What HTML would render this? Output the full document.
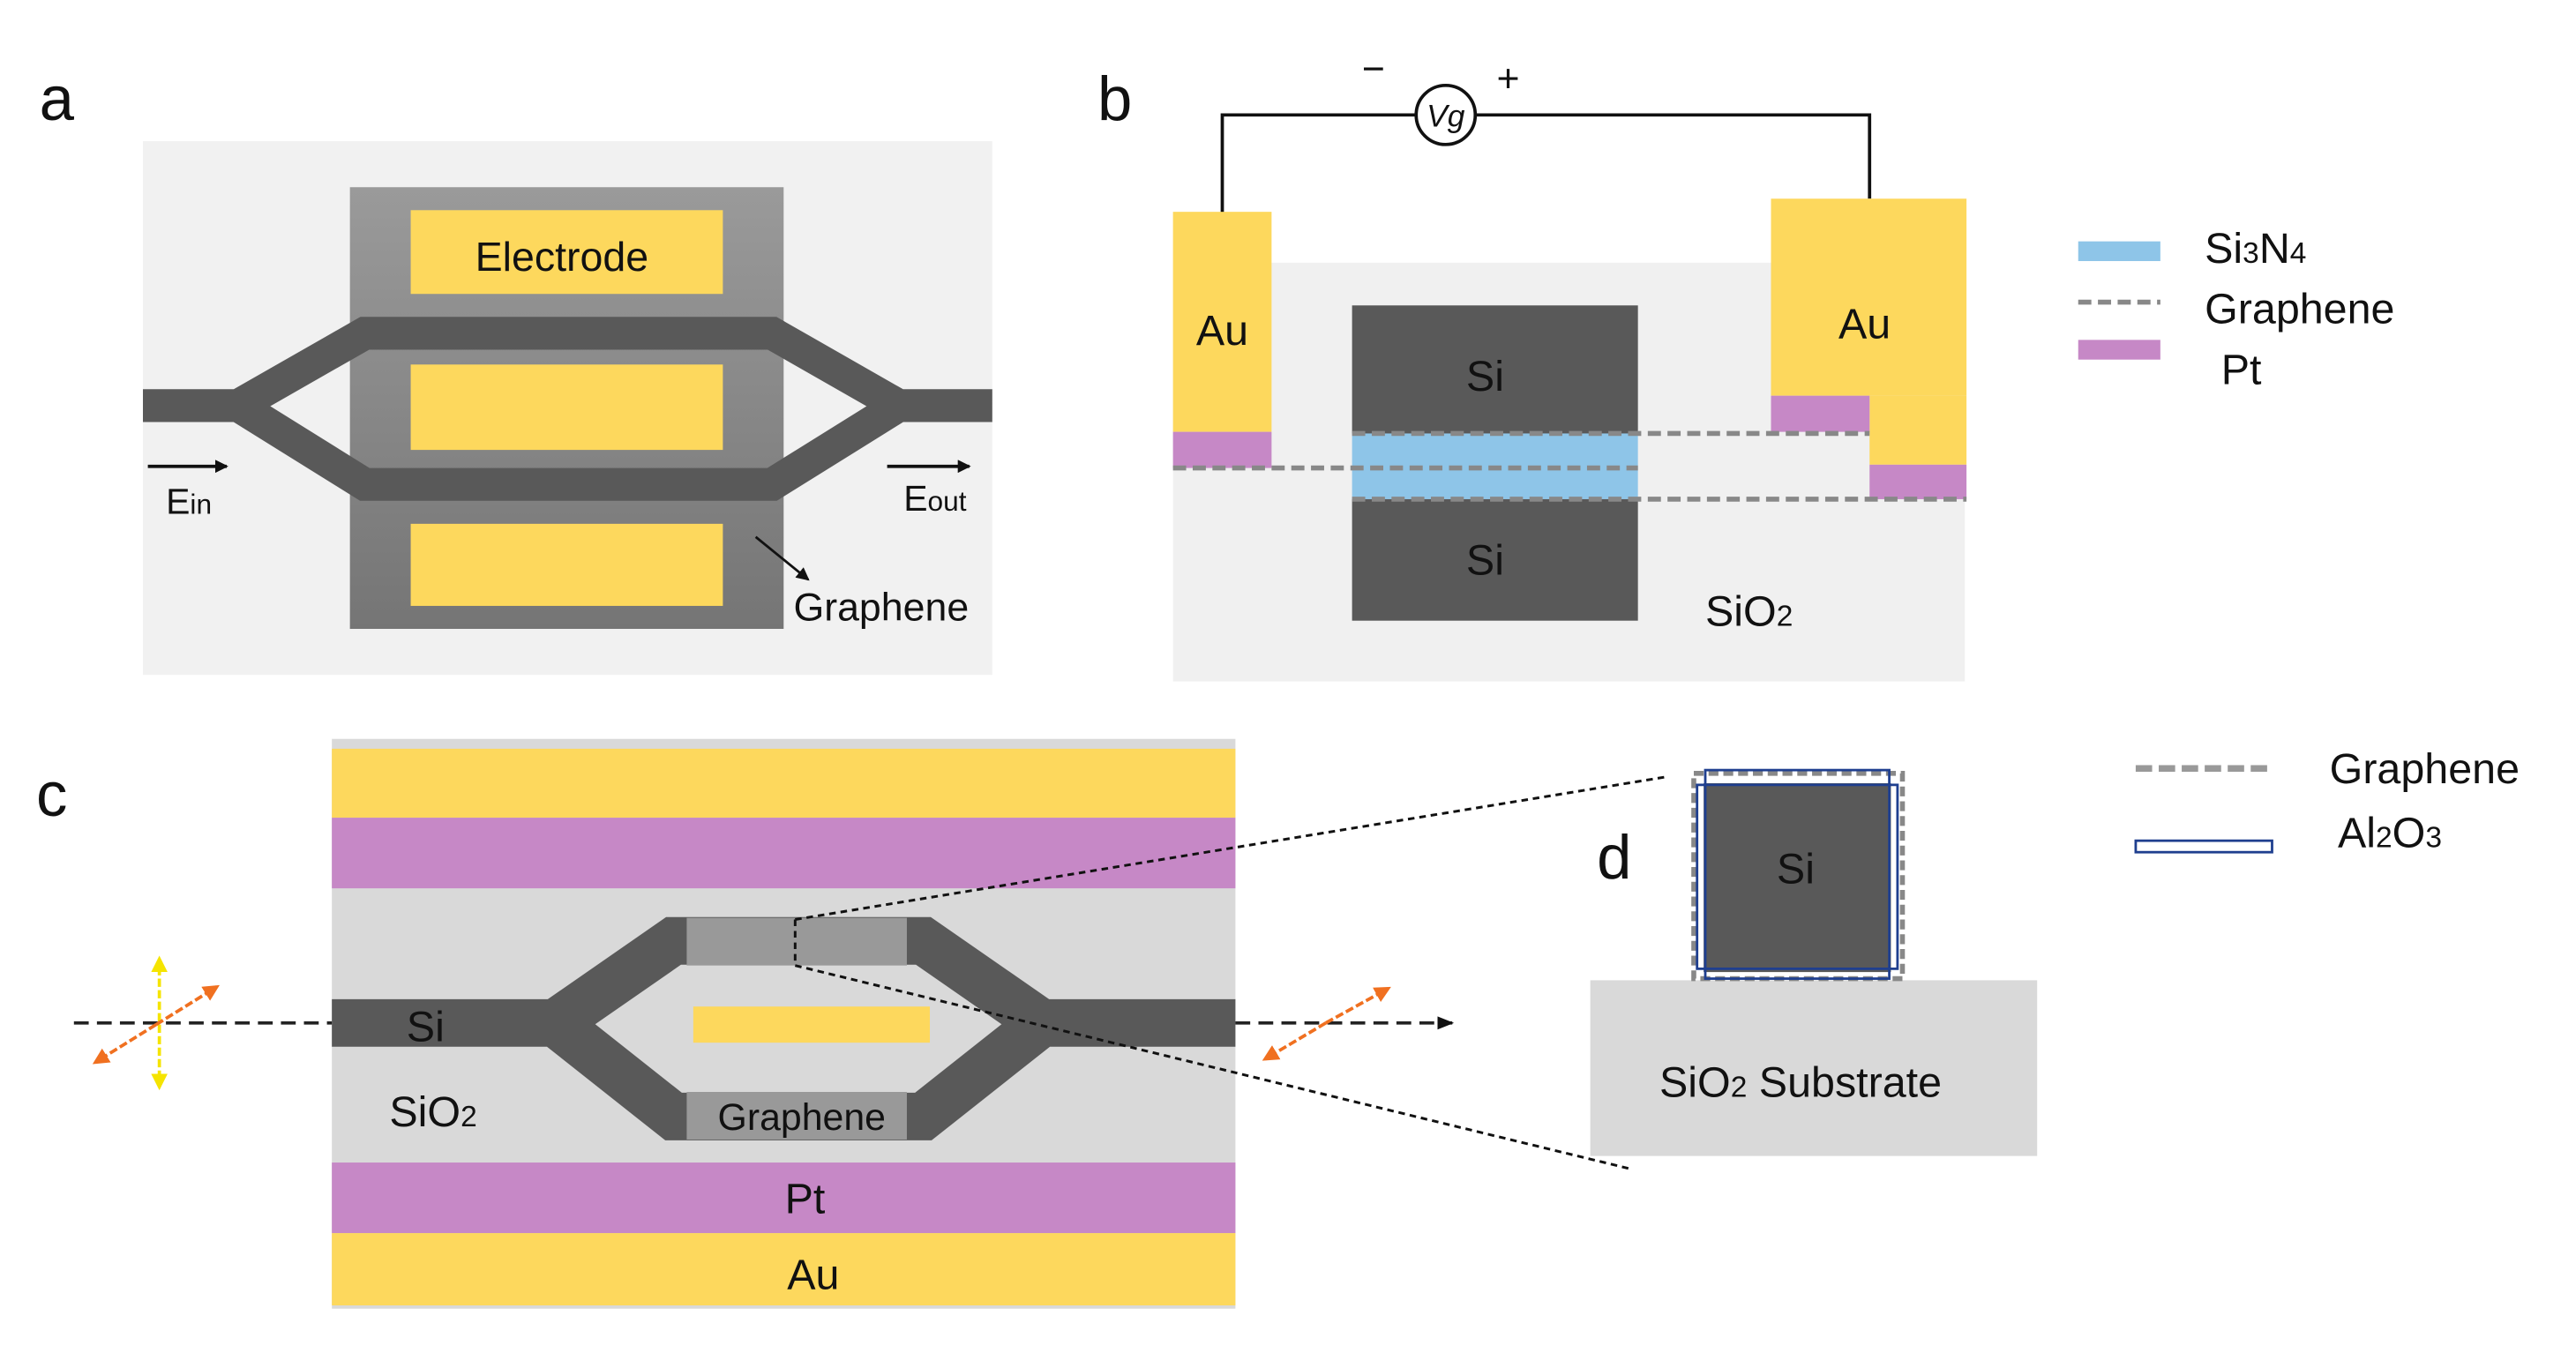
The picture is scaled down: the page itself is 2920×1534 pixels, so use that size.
<!DOCTYPE html>
<html><head><meta charset="utf-8"><style>
html,body{margin:0;padding:0;background:#fff;}
svg{display:block;}
text{font-family:"Liberation Sans",sans-serif;fill:#111;}
</style></head><body>
<svg width="2920" height="1534" viewBox="0 0 1568 824" preserveAspectRatio="none" xmlns="http://www.w3.org/2000/svg">
<defs>
<linearGradient id="g1" x1="0" y1="0" x2="0" y2="1"><stop offset="0" stop-color="#9a9a9a"/><stop offset="1" stop-color="#757575"/></linearGradient>
<marker id="ah" markerWidth="8" markerHeight="8" refX="7" refY="4" orient="auto" markerUnits="userSpaceOnUse"><path d="M0,0 L8,4 L0,8 Z" fill="#111"/></marker>
<marker id="ahs" markerWidth="10" markerHeight="10" refX="9" refY="5" orient="auto" markerUnits="userSpaceOnUse"><path d="M0,1 L10,5 L0,9 Z" fill="#111"/></marker>
<marker id="ao" markerWidth="10" markerHeight="10" refX="8" refY="5" orient="auto" markerUnits="userSpaceOnUse"><path d="M0,0 L10,5 L0,10 Z" fill="#f07020"/></marker>
<marker id="ay" markerWidth="10" markerHeight="10" refX="8" refY="5" orient="auto" markerUnits="userSpaceOnUse"><path d="M0,0 L10,5 L0,10 Z" fill="#f5e400"/></marker>
</defs>

<!-- Panel a -->
<text x="24" y="73" font-size="38">a</text>
<rect x="87" y="86" width="517" height="325" fill="#f1f1f1"/>
<rect x="213" y="114" width="264" height="269" fill="url(#g1)"/>
<rect x="250" y="128" width="190" height="51" fill="#fdd85d"/>
<rect x="250" y="222" width="190" height="52" fill="#fdd85d"/>
<rect x="250" y="319" width="190" height="50" fill="#fdd85d"/>
<text x="342" y="165" font-size="25" text-anchor="middle">Electrode</text>
<path d="M87,247 L145,247 L222,203 L470,203 L547,247 L604,247 M145,247 L222,295 L470,295 L547,247" stroke="#595959" stroke-width="20" fill="none" stroke-linejoin="miter"/>
<line x1="90" y1="284" x2="138" y2="284" stroke="#111" stroke-width="2" marker-end="url(#ah)"/>
<text x="101" y="313" font-size="22">E<tspan font-size="17">in</tspan></text>
<line x1="540" y1="284" x2="590" y2="284" stroke="#111" stroke-width="2" marker-end="url(#ah)"/>
<text x="550" y="311" font-size="22">E<tspan font-size="17">out</tspan></text>
<line x1="460" y1="327" x2="492" y2="353" stroke="#111" stroke-width="1.5" marker-end="url(#ah)"/>
<text x="483" y="378" font-size="24">Graphene</text>

<!-- Panel b -->
<text x="668" y="73" font-size="38">b</text>
<rect x="714" y="160" width="482" height="255" fill="#f0f0f0"/>
<polyline points="744,130 744,70 1138,70 1138,121" fill="none" stroke="#111" stroke-width="2"/>
<circle cx="880" cy="70" r="18" fill="#fff" stroke="#111" stroke-width="2"/>
<text x="880" y="77" font-size="19" font-style="italic" text-anchor="middle" font-family="Liberation Serif,serif">Vg</text>
<text x="836" y="50" font-size="24" text-anchor="middle">−</text>
<text x="918" y="56" font-size="24" text-anchor="middle">+</text>
<rect x="714" y="129" width="60" height="134" fill="#fdd85d"/>
<rect x="714" y="263" width="60" height="22" fill="#c688c6"/>
<rect x="823" y="186" width="174" height="78" fill="#595959"/>
<rect x="823" y="264" width="174" height="40" fill="#8ec5e8"/>
<rect x="823" y="304" width="174" height="74" fill="#595959"/>
<rect x="1078" y="121" width="119" height="120" fill="#fdd85d"/>
<rect x="1138" y="241" width="59" height="42" fill="#fdd85d"/>
<rect x="1078" y="241" width="60" height="22" fill="#c688c6"/>
<rect x="1138" y="283" width="59" height="21" fill="#c688c6"/>
<g stroke="#888" stroke-width="3" stroke-dasharray="8,4">
<line x1="823" y1="264" x2="1138" y2="264"/>
<line x1="714" y1="285" x2="997" y2="285"/>
<line x1="823" y1="304" x2="1197" y2="304"/>
</g>
<text x="744" y="210" font-size="26" text-anchor="middle">Au</text>
<text x="1135" y="206" font-size="26" text-anchor="middle">Au</text>
<text x="904" y="238" font-size="26" text-anchor="middle">Si</text>
<text x="904" y="350" font-size="26" text-anchor="middle">Si</text>
<text x="1038" y="381" font-size="26">SiO<tspan font-size="18">2</tspan></text>
<rect x="1265" y="147" width="50" height="12" fill="#8ec5e8"/>
<text x="1342" y="160" font-size="26">Si<tspan font-size="18">3</tspan>N<tspan font-size="18">4</tspan></text>
<line x1="1265" y1="184" x2="1315" y2="184" stroke="#888" stroke-width="3" stroke-dasharray="8,4"/>
<text x="1342" y="197" font-size="26">Graphene</text>
<rect x="1265" y="207" width="50" height="12" fill="#c688c6"/>
<text x="1352" y="234" font-size="26">Pt</text>

<!-- Panel c -->
<text x="22" y="497" font-size="38">c</text>
<rect x="202" y="450" width="550" height="347" fill="#d9d9d9"/>
<rect x="202" y="456" width="550" height="42" fill="#fdd85d"/>
<rect x="202" y="498" width="550" height="43" fill="#c688c6"/>
<rect x="202" y="708" width="550" height="43" fill="#c688c6"/>
<rect x="202" y="751" width="550" height="44" fill="#fdd85d"/>
<path d="M202,623 L338,623 L410,573 L562,573 L634,623 L752,623 M338,623 L410,680 L562,680 L634,623" stroke="#595959" stroke-width="29" fill="none" stroke-linejoin="miter"/>
<rect x="418" y="559" width="134" height="29" fill="#999"/>
<rect x="418" y="665" width="134" height="29" fill="#999"/>
<rect x="422" y="613" width="144" height="22" fill="#fdd85d"/>
<text x="259" y="634" font-size="26" text-anchor="middle">Si</text>
<text x="237" y="686" font-size="26">SiO<tspan font-size="18">2</tspan></text>
<text x="488" y="688" font-size="23" text-anchor="middle">Graphene</text>
<text x="490" y="739" font-size="26" text-anchor="middle">Pt</text>
<text x="495" y="785" font-size="26" text-anchor="middle">Au</text>
<g stroke="#222" stroke-width="2" stroke-dasharray="9,5">
<line x1="45" y1="623" x2="202" y2="623"/>
<line x1="752" y1="623" x2="884" y2="623" marker-end="url(#ahs)"/>
</g>
<g stroke="#111" stroke-width="1.6" stroke-dasharray="4,3" fill="none">
<line x1="484" y1="560" x2="1015" y2="473"/>
<line x1="484" y1="588" x2="993" y2="712"/>
<line x1="484" y1="560" x2="484" y2="588"/>
</g>
<g stroke-width="2" stroke-dasharray="5,2">
<line x1="97" y1="622" x2="97" y2="584" stroke="#f5e400" marker-end="url(#ay)"/>
<line x1="97" y1="624" x2="97" y2="662" stroke="#f5e400" marker-end="url(#ay)"/>
<line x1="95" y1="624" x2="132" y2="601" stroke="#f07020" marker-end="url(#ao)"/>
<line x1="95" y1="624" x2="58" y2="647" stroke="#f07020" marker-end="url(#ao)"/>
<line x1="807" y1="623" x2="845" y2="602" stroke="#f07020" marker-end="url(#ao)"/>
<line x1="807" y1="623" x2="770" y2="645" stroke="#f07020" marker-end="url(#ao)"/>
</g>

<!-- Panel d -->
<text x="972" y="535" font-size="38">d</text>
<rect x="968" y="597" width="272" height="107" fill="#d9d9d9"/>
<text x="1096" y="668" font-size="26" text-anchor="middle">SiO<tspan font-size="18">2</tspan> Substrate</text>
<rect x="1031" y="471" width="127" height="125" fill="none" stroke="#888" stroke-width="3" stroke-dasharray="6,3"/>
<rect x="1037" y="477" width="114" height="115" fill="#595959"/>
<rect x="1038" y="469" width="112" height="127" fill="none" stroke="#1f3f8f" stroke-width="1.5"/>
<rect x="1033" y="478" width="122" height="112" fill="none" stroke="#1f3f8f" stroke-width="1.5"/>
<text x="1093" y="538" font-size="26" text-anchor="middle">Si</text>
<line x1="1300" y1="468" x2="1382" y2="468" stroke="#999" stroke-width="4" stroke-dasharray="10,4"/>
<text x="1418" y="477" font-size="26">Graphene</text>
<rect x="1300" y="512" width="83" height="7" fill="#fff" stroke="#1f3f8f" stroke-width="1.5"/>
<text x="1423" y="516" font-size="26">Al<tspan font-size="18">2</tspan>O<tspan font-size="18">3</tspan></text>
</svg>
</body></html>
